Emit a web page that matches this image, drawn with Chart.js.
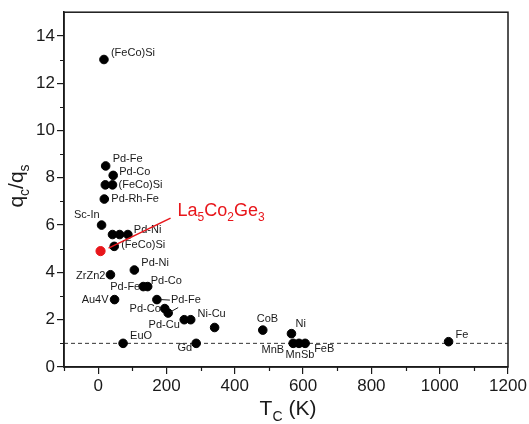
<!DOCTYPE html>
<html>
<head>
<meta charset="utf-8">
<script src="https://cdn.jsdelivr.net/npm/chart.js@4.4.1/dist/chart.umd.min.js"></script>
<style>
    body { margin: 0; background: #fff; }
    #wrap { width: 529px; height: 424px; }
</style>
</head>
<body>
<div id="wrap"><canvas id="myChart" width="529" height="424"></canvas></div>
<script>
// #region data
const names = ['(FeCo)Si', 'Pd-Fe', 'Pd-Co', '', '(FeCo)Si', 'Pd-Rh-Fe', 'Sc-In', '', '', 'Pd-Ni',
    '(FeCo)Si', 'Pd-Ni', 'ZrZn2', 'Pd-Fe', 'Pd-Co', 'Au4V', 'Pd-Fe', 'Pd-Co', 'Pd-Cu', '', '',
    'Ni-Cu', 'CoB', 'Ni', 'MnB', 'MnSb', 'FeB', 'EuO', 'Gd', 'Fe'];
const tc = [17, 22, 44, 21, 42, 18, 10, 42, 63, 87,
    47, 106, 36, 132, 145, 48, 172, 195, 205, 252, 271,
    341, 482, 566, 571, 588, 606, 73, 287, 1026];
const ratio = [13, 8.5, 8.1, 7.7, 7.7, 7.1, 6.0, 5.6, 5.6, 5.6,
    5.1, 4.1, 3.9, 3.4, 3.4, 2.85, 2.85, 2.47, 2.28, 2.0, 2.0,
    1.67, 1.56, 1.41, 1.0, 1.0, 1.0, 1.0, 1.0, 1.07];

const sampleName = ['La', '5', 'Co', '2', 'Ge', '3'];
const sampleTc = [7];
const sampleRatio = [4.9];

const threshold = 1;
const xTicks = [-100, 1200];
const yTicks = [0, 15];
// #endregion data

// label placement: [dx, dy, align] in pixels from the dot
const labelPos = [
    [7, -7, 'left'], [7, -7, 'left'], [6, -3, 'left'], null, [6, 0, 'left'], [7, 0, 'left'],
    [-2, -10, 'right'], null, null, [6, -5, 'left'],
    [7, -1, 'left'], [7, -7, 'left'], [-5, 1, 'right'], [-3, 0, 'right'], [3, -6, 'left'],
    [-6, 0, 'right'], [14, 0, 'left'], [-4, 0, 'right'], [-4, 12, 'center'], null, null,
    [-17, -14, 'left'], [-6, -11, 'left'], [4, -10, 'left'], [-9, 7, 'right'], [1, 12, 'center'],
    [9, 6, 'left'], [7, -7, 'left'], [-4, 5, 'right'], [7, -7, 'left']
];
// small connector strokes: [index, x1, y1, x2, y2] relative to dot
const connectors = [
    [16, 4, 0, 13, 0.5],
    [18, 2, -1, 10, -5.5]
];

const ink = '#1a1a1a';
const red = '#e8161b';
const fam = '"Liberation Sans", Arial, sans-serif';

const graph = document.querySelector('#myChart');

const points = tc.map((x, i) => ({ x: x, y: ratio[i] }));
const sample = sampleTc.map((x, i) => ({ x: x, y: sampleRatio[i] }));

const overlay = {
    id: 'overlay',
    afterDraw(chart) {
        const ctx = chart.ctx;
        const xs = chart.scales.x, ys = chart.scales.y;
        const a = chart.chartArea;
        ctx.save();

        // frame
        ctx.strokeStyle = ink;
        ctx.lineWidth = 1.5;
        ctx.strokeRect(a.left, a.top, a.right - a.left, a.bottom - a.top);

        // minor ticks
        ctx.lineWidth = 1.2;
        ctx.beginPath();
        for (let v = -100; v <= 1100; v += 200) {
            const px = Math.round(xs.getPixelForValue(v)) + 0.5;
            ctx.moveTo(px, a.bottom);
            ctx.lineTo(px, a.bottom + 4);
        }
        for (let v = 1; v <= 13; v += 2) {
            const py = Math.round(ys.getPixelForValue(v)) + 0.5;
            ctx.moveTo(a.left, py);
            ctx.lineTo(a.left - 4, py);
        }
        ctx.stroke();

        // point labels
        ctx.fillStyle = ink;
        ctx.font = '11px ' + fam;
        ctx.textBaseline = 'middle';
        names.forEach((n, i) => {
            if (!n || !labelPos[i]) return;
            const px = xs.getPixelForValue(tc[i]);
            const py = ys.getPixelForValue(ratio[i]);
            ctx.textAlign = labelPos[i][2];
            ctx.fillText(n, px + labelPos[i][0], py + labelPos[i][1]);
        });

        ctx.lineWidth = 1;
        ctx.beginPath();
        connectors.forEach(c => {
            const px = xs.getPixelForValue(tc[c[0]]);
            const py = ys.getPixelForValue(ratio[c[0]]);
            ctx.moveTo(px + c[1], py + c[2]);
            ctx.lineTo(px + c[3], py + c[4]);
        });
        ctx.stroke();

        // sample pointer and name with subscripts
        const sx = xs.getPixelForValue(sampleTc[0]);
        const sy = ys.getPixelForValue(sampleRatio[0]);
        ctx.strokeStyle = red;
        ctx.lineWidth = 1.6;
        ctx.beginPath();
        ctx.moveTo(sx + 8, sy - 3);
        ctx.lineTo(sx + 70, sy - 33);
        ctx.stroke();

        ctx.fillStyle = red;
        ctx.textAlign = 'left';
        ctx.textBaseline = 'alphabetic';
        let cx = sx + 77;
        const base = sy - 35;
        sampleName.forEach((part, i) => {
            const sub = i % 2 === 1;
            ctx.font = (sub ? '12px ' : '18px ') + fam;
            ctx.fillText(part, cx, base + (sub ? 5 : 0));
            cx += ctx.measureText(part).width;
        });

        // axis titles
        ctx.fillStyle = ink;
        const xParts = [['T', 0], ['C', 1], [' (K)', 0]];
        const yParts = [['q', 0], ['c', 1], ['/q', 0], ['s', 1]];
        const width = parts => parts.reduce((w, p) => {
            ctx.font = (p[1] ? '14px ' : '21px ') + fam;
            return w + ctx.measureText(p[0]).width;
        }, 0);
        const drawParts = (parts, x0, y0) => {
            let x = x0;
            parts.forEach(p => {
                ctx.font = (p[1] ? '14px ' : '21px ') + fam;
                ctx.fillText(p[0], x, y0 + (p[1] ? 6 : 0));
                x += ctx.measureText(p[0]).width;
            });
        };
        drawParts(xParts, 288 - width(xParts) / 2, 415);

        ctx.translate(23, 186);
        ctx.rotate(-Math.PI / 2);
        drawParts(yParts, -width(yParts) / 2, 0);

        ctx.restore();
    }
};

function graphrender() {
    const ctx = graph.getContext('2d');
    new Chart(ctx, {
        type: 'scatter',
        data: {
            datasets: [{
                type: 'line',
                data: xTicks.map(x => ({ x: x, y: threshold })),
                borderColor: '#333',
                borderWidth: 1,
                borderDash: [4, 3],
                pointRadius: 0,
                order: 3
            }, {
                data: points,
                backgroundColor: '#000',
                borderColor: '#000',
                pointRadius: 4.3,
                order: 2
            }, {
                data: sample,
                backgroundColor: red,
                borderColor: red,
                pointRadius: 4.6,
                order: 1
            }]
        },
        options: {
            responsive: false,
            animation: false,
            events: [],
            layout: { padding: { top: 8, right: 21, left: 0, bottom: 0 } },
            plugins: { legend: { display: false }, tooltip: { enabled: false } },
            scales: {
                x: {
                    type: 'linear',
                    min: xTicks[0],
                    max: xTicks[1],
                    afterFit: s => { s.height = 57; },
                    border: { display: true, color: ink, width: 1.5 },
                    grid: { drawOnChartArea: false, tickLength: 7, color: ink, lineWidth: 1.2 },
                    ticks: {
                        stepSize: 200,
                        includeBounds: false,
                        maxRotation: 0,
                        color: ink,
                        padding: 2,
                        font: { family: fam, size: 17 },
                        callback: v => String(v)
                    }
                },
                y: {
                    min: yTicks[0],
                    max: yTicks[1],
                    afterFit: s => { s.width = 64; },
                    border: { display: true, color: ink, width: 1.5 },
                    grid: { drawOnChartArea: false, tickLength: 7, color: ink, lineWidth: 1.2 },
                    ticks: {
                        stepSize: 2,
                        includeBounds: false,
                        color: ink,
                        padding: 2,
                        font: { family: fam, size: 17 },
                        callback: v => String(v)
                    }
                }
            }
        },
        plugins: [overlay]
    });
}

graphrender();
</script>
</body>
</html>
